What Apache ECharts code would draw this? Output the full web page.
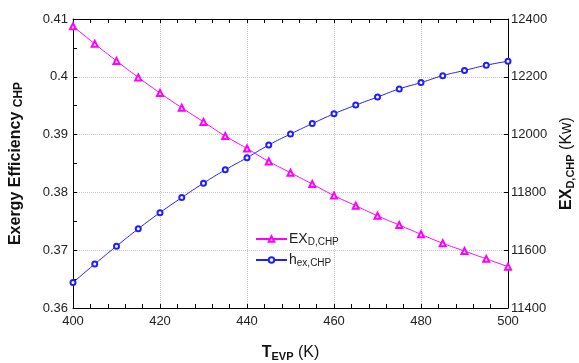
<!DOCTYPE html>
<html>
<head>
<meta charset="utf-8">
<script src="https://cdn.jsdelivr.net/npm/echarts@6/dist/echarts.min.js"></script>
<style>
  html, body { margin: 0; padding: 0; background: #fff; }
  #chart { width: 579px; height: 363px; }
</style>
</head>
<body>
<div id="chart"></div>
<script>
// evaporator temperature (K)
var tEvp = [400, 405, 410, 415, 420, 425, 430, 435, 440, 445, 450,
            455, 460, 465, 470, 475, 480, 485, 490, 495, 500];
// exergy efficiency of CHP (left axis)
var effCHP = [0.3644, 0.3676, 0.3707, 0.3737, 0.3765, 0.3791, 0.3816, 0.3839, 0.3860, 0.3882, 0.3901,
              0.3919, 0.3936, 0.3951, 0.3965, 0.3979, 0.3990, 0.4002, 0.4011, 0.4020, 0.4027];
// exergy destruction of CHP, Kw (right axis)
var exdCHP = [12375, 12314, 12255, 12198, 12144, 12093, 12044, 11995, 11952, 11907, 11868,
              11829, 11789, 11754, 11719, 11687, 11655, 11624, 11597, 11570, 11543];

var FONT = '"Liberation Sans", Arial, sans-serif';

function pairs(xs, ys) {
    var out = [];
    for (var i = 0; i < xs.length; i++) out.push([xs[i], ys[i]]);
    return out;
}

var myChart = echarts.init(document.getElementById('chart'));

var option = {
    animation: false,
    textStyle: {fontFamily: FONT},
    grid: {left: 73, right: 71, top: 19, bottom: 55, containLabel: false, outerBoundsMode: 'none'},
    legend: {
        orient: 'vertical',
        left: 250,
        top: 226,
        itemWidth: 31,
        itemHeight: 7,
        itemGap: 5,
        data: ['exd', 'eff'],
        formatter: function (name) {
            return name == 'exd' ? '{m|EX}{s|D,CHP}' : '{m|h}{s|ex,CHP}';
        },
        textStyle: {
            fontFamily: FONT,
            color: '#222',
            padding: [0, 0, 0, -3],
            rich: {
                m: {fontSize: 14, fontFamily: FONT, color: '#222', lineHeight: 16},
                s: {fontSize: 10, fontFamily: FONT, color: '#222', lineHeight: 16, padding: [6, 0, 0, 0]}
            }
        }
    },
    xAxis: [
        {
            type: 'value',
            min: 400, max: 500, interval: 20,
            name: '{b|T}{s|EVP}{n| (K)}',
            nameLocation: 'middle',
            nameGap: 36,
            nameTextStyle: {
                rich: {
                    b: {fontSize: 16, fontWeight: 'bold', fontFamily: FONT, color: '#111', lineHeight: 18},
                    s: {fontSize: 11, fontWeight: 'bold', fontFamily: FONT, color: '#111', lineHeight: 18, padding: [7, 0, 0, 0]},
                    n: {fontSize: 16, fontFamily: FONT, color: '#111', lineHeight: 18}
                }
            },
            axisLine: {lineStyle: {color: '#000', width: 1}},
            axisTick: {inside: true, length: 4, lineStyle: {color: '#000'}},
            minorTick: {show: true, splitNumber: 5, length: 4, lineStyle: {color: '#000'}},
            axisLabel: {fontSize: 13, color: '#222', margin: 7, fontFamily: FONT},
            splitLine: {show: true, lineStyle: {color: '#c4c4c4', type: 'dotted'}}
        },
        {
            type: 'value',
            position: 'top',
            min: 400, max: 500, interval: 20,
            axisLine: {lineStyle: {color: '#000', width: 1}},
            axisTick: {inside: true, length: 4, lineStyle: {color: '#000'}},
            minorTick: {show: true, splitNumber: 5, length: 4, lineStyle: {color: '#000'}},
            axisLabel: {show: false},
            splitLine: {show: false}
        }
    ],
    yAxis: [
        {
            type: 'value',
            min: 0.36, max: 0.41, interval: 0.01,
            name: '{b|Exergy Efficiency }{s|CHP}',
            nameLocation: 'middle',
            nameGap: 48,
            nameTextStyle: {
                rich: {
                    b: {fontSize: 16, fontWeight: 'bold', fontFamily: FONT, color: '#111', lineHeight: 18},
                    s: {fontSize: 12, fontWeight: 'bold', fontFamily: FONT, color: '#111', lineHeight: 18, padding: [5, 0, 0, 0]}
                }
            },
            axisLine: {show: true, lineStyle: {color: '#000', width: 1}},
            axisTick: {show: true, inside: true, length: 4, lineStyle: {color: '#000'}},
            minorTick: {show: true, splitNumber: 2, length: 4, lineStyle: {color: '#000'}},
            axisLabel: {fontSize: 13, color: '#222', margin: 5, fontFamily: FONT},
            splitLine: {show: true, lineStyle: {color: '#c4c4c4', type: 'dotted'}}
        },
        {
            type: 'value',
            min: 11400, max: 12400, interval: 200,
            name: '{b|EX}{s|D,CHP}{n| (Kw)}',
            nameLocation: 'middle',
            nameGap: 50,
            nameTextStyle: {
                rich: {
                    b: {fontSize: 16, fontWeight: 'bold', fontFamily: FONT, color: '#111', lineHeight: 18},
                    s: {fontSize: 11, fontWeight: 'bold', fontFamily: FONT, color: '#111', lineHeight: 18, padding: [7, 0, 0, 0]},
                    n: {fontSize: 16, fontFamily: FONT, color: '#111', lineHeight: 18}
                }
            },
            axisLine: {show: true, lineStyle: {color: '#000', width: 1}},
            axisTick: {show: true, inside: true, length: 4, lineStyle: {color: '#000'}},
            axisLabel: {fontSize: 13, color: '#222', margin: 3, fontFamily: FONT,
                        formatter: function (v) { return String(v); }},
            splitLine: {show: false}
        }
    ],
    series: [
        {
            name: 'exd',
            type: 'line',
            yAxisIndex: 1,
            data: pairs(tEvp, exdCHP),
            symbol: 'emptyTriangle',
            symbolSize: 6,
            smooth: true,
            lineStyle: {color: '#ff00ff', width: 1},
            itemStyle: {color: '#ff00ff', borderWidth: 1}
        },
        {
            name: 'eff',
            type: 'line',
            yAxisIndex: 0,
            data: pairs(tEvp, effCHP),
            symbol: 'emptyCircle',
            symbolSize: 5,
            smooth: true,
            lineStyle: {color: '#1f1fff', width: 1},
            itemStyle: {color: '#1f1fff', borderWidth: 1}
        }
    ]
};

myChart.setOption(option);
</script>
</body>
</html>
